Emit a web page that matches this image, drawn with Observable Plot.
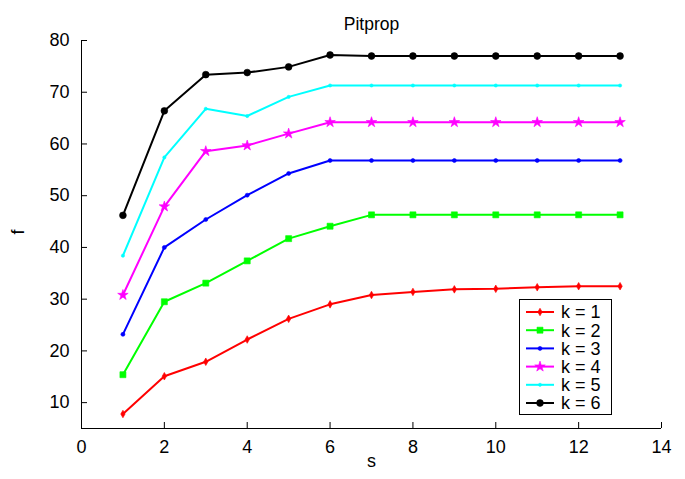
<!DOCTYPE html>
<html>
<head>
<meta charset="utf-8">
<script src="https://cdn.jsdelivr.net/npm/d3@7"></script>
<script src="https://cdn.jsdelivr.net/npm/@observablehq/plot@0.6"></script>
<style>
  html, body { margin: 0; padding: 0; background: white; }
  #chart { position: relative; width: 685px; height: 479px; }
</style>
</head>
<body>
<div id="chart"></div>
<script>
const s = [1, 2, 3, 4, 5, 6, 7, 8, 9, 10, 11, 12, 13];
const k1 = [7.8, 15.1, 17.9, 22.2, 26.2, 29.0, 30.8, 31.4, 31.9, 32.0, 32.3, 32.5, 32.5];
const k2 = [15.4, 29.5, 33.1, 37.4, 41.7, 44.1, 46.3, 46.3, 46.3, 46.3, 46.3, 46.3, 46.3];
const k3 = [23.2, 40.0, 45.4, 50.1, 54.3, 56.8, 56.8, 56.8, 56.8, 56.8, 56.8, 56.8, 56.8];
const k4 = [30.8, 47.9, 58.6, 59.7, 62.0, 64.2, 64.2, 64.2, 64.2, 64.2, 64.2, 64.2, 64.2];
const k5 = [38.4, 57.4, 66.8, 65.4, 69.1, 71.3, 71.3, 71.3, 71.3, 71.3, 71.3, 71.3, 71.3];
const k6 = [46.2, 66.4, 73.4, 73.8, 74.9, 77.2, 77.0, 77.0, 77.0, 77.0, 77.0, 77.0, 77.0];
const seriesLabels = ["k = 1", "k = 2", "k = 3", "k = 4", "k = 5", "k = 6"];
const xTicks = [0, 2, 4, 6, 8, 10, 12, 14];
const yTicks = [10, 20, 30, 40, 50, 60, 70, 80];
const title = "Pitprop";
const xLabel = "s";
const yLabel = "f";

const colors = ["#ff0000", "#00ff00", "#0000ff", "#ff00ff", "#00ffff", "#000000"];
const symbols = ["diamond", "square", "circle", "star", "circle", "circle"];
const radii = [2.3, 3.4, 2.0, 3.3, 1.6, 3.4];
const allSeries = [k1, k2, k3, k4, k5, k6];

const font = "'Liberation Sans', Arial, Helvetica, sans-serif";

const marks = [];
allSeries.forEach((vals, i) => {
  const data = s.map((x, j) => ({s: x, f: vals[j]}));
  marks.push(Plot.line(data, {x: "s", y: "f", stroke: colors[i], strokeWidth: 2}));
  marks.push(Plot.dot(data, {x: "s", y: "f", fill: colors[i], stroke: colors[i], strokeWidth: 0.6, symbol: () => symbols[i], r: radii[i]}));
});

const chart = Plot.plot({
  width: 685,
  height: 479,
  marginLeft: 81,
  marginRight: 24,
  marginTop: 40,
  marginBottom: 51,
  style: {fontFamily: font, fontSize: "18px", background: "white", color: "black"},
  x: {domain: [0, 14], ticks: xTicks, label: null},
  y: {domain: [5, 80], ticks: yTicks, label: null},
  marks: [
    Plot.ruleX([0], {stroke: "black", strokeWidth: 1}),
    Plot.ruleY([5], {stroke: "black", strokeWidth: 1}),
    Plot.axisY(yTicks, {tickSize: 6, dx: 6, fill: "none", label: null, strokeWidth: 1}),
    Plot.axisX(xTicks, {tickSize: 6, dy: -6, fill: "none", label: null, strokeWidth: 1}),
    Plot.axisY(yTicks, {tickSize: 0, tickPadding: 12, stroke: "none", label: null, fontSize: 18}),
    Plot.axisX(xTicks, {tickSize: 0, tickPadding: 12, stroke: "none", label: null, fontSize: 18}),
    ...marks,
    Plot.text([title], {frameAnchor: "top", dy: -23, fontSize: 17.5, fill: "black"}),
    Plot.text([xLabel], {frameAnchor: "bottom", dy: 38, fontSize: 18, fill: "black"}),
    Plot.text([yLabel], {frameAnchor: "left", dx: -63, rotate: -90, fontSize: 18, fill: "black"})
  ]
});

const container = document.getElementById("chart");
container.appendChild(chart);

// Legend box (in-axes, upper-left of box at 519,299)
const legend = d3.select(container).append("svg")
  .style("position", "absolute").style("left", "519px").style("top", "299px")
  .attr("width", 94).attr("height", 117)
  .style("font-family", font);
legend.append("rect").attr("x", 0.5).attr("y", 0.5).attr("width", 92).attr("height", 115)
  .attr("fill", "white").attr("stroke", "black").attr("stroke-width", 1);
const symMap = {diamond: d3.symbolDiamond, square: d3.symbolSquare, circle: d3.symbolCircle, star: d3.symbolStar};
seriesLabels.forEach((lab, i) => {
  const cy = 13 + i * 18.2;
  legend.append("line").attr("x1", 7).attr("x2", 35).attr("y1", cy).attr("y2", cy)
    .attr("stroke", colors[i]).attr("stroke-width", 2);
  legend.append("path").attr("transform", `translate(21,${cy})`)
    .attr("d", d3.symbol(symMap[symbols[i]], Math.PI * radii[i] * radii[i])())
    .attr("fill", colors[i]).attr("stroke", colors[i]).attr("stroke-width", 0.6);
  legend.append("text").attr("x", 42).attr("y", cy).attr("dy", "0.35em")
    .attr("font-size", 18).attr("fill", "black").text(lab);
});
</script>
</body>
</html>
